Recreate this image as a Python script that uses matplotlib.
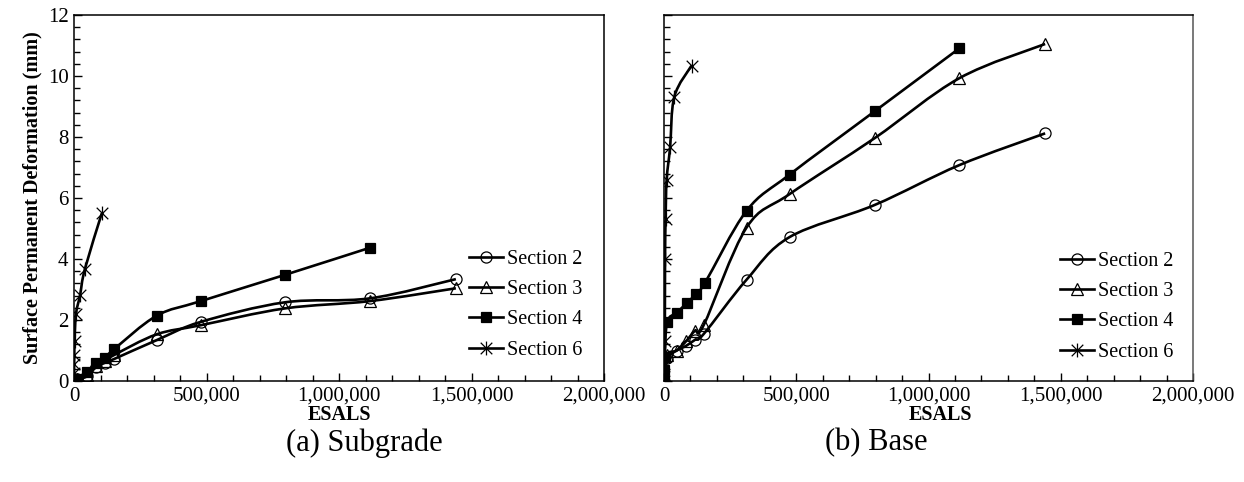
import numpy as np
import matplotlib.pyplot as plt
from matplotlib.path import Path
from matplotlib.patches import PathPatch
from matplotlib.lines import Line2D

plt.rcParams['font.family'] = ['Liberation Serif', 'DejaVu Serif']

# ---- data (ESALs, surface permanent deformation in mm) ----
labels = ["Section 2", "Section 3", "Section 4", "Section 6"]
x_ticks = [0, 500000, 1000000, 1500000, 2000000]
x_ticklabels = ["0", "500,000", "1,000,000", "1,500,000", "2,000,000"]
y_ticks = [0, 2, 4, 6, 8, 10, 12]

# (a) Subgrade
sg_x2 = [0, 12000, 48000, 83000, 117000, 151000, 312000, 479000, 796000, 1117000, 1441000]
sg_y2 = [0, 0.05, 0.15, 0.45, 0.60, 0.72, 1.34, 1.94, 2.58, 2.71, 3.34]
sg_x3 = [0, 12000, 48000, 83000, 117000, 151000, 312000, 479000, 796000, 1117000, 1441000]
sg_y3 = [0, 0.05, 0.20, 0.50, 0.65, 0.85, 1.53, 1.83, 2.38, 2.62, 3.04]
sg_x4 = [0, 5000, 12000, 48000, 83000, 117000, 151000, 312000, 479000, 796000, 1117000]
sg_y4 = [0, 0.03, 0.08, 0.31, 0.58, 0.76, 1.04, 2.14, 2.62, 3.48, 4.37]
sg_x6 = [0, 0, 1000, 2000, 7500, 23000, 41000, 105000]
sg_y6 = [0.26, 0.55, 0.85, 1.30, 2.20, 2.82, 3.67, 5.50]

# (b) Base
bs_x2 = [0, 10000, 48000, 83000, 117000, 151000, 312000, 475000, 796000, 1117000, 1441000]
bs_y2 = [0, 0.75, 1.00, 1.15, 1.35, 1.55, 3.32, 4.72, 5.77, 7.08, 8.12]
bs_x3 = [0, 10000, 48000, 83000, 117000, 151000, 312000, 475000, 796000, 1117000, 1441000]
bs_y3 = [0, 0.85, 1.00, 1.30, 1.65, 1.85, 5.03, 6.13, 7.96, 9.93, 11.05]
bs_x4 = [0, 1000, 3000, 12000, 48000, 86000, 120000, 155000, 312000, 475000, 796000, 1117000]
bs_y4 = [0, 0.35, 0.80, 1.94, 2.24, 2.55, 2.85, 3.22, 5.58, 6.77, 8.84, 10.91]
bs_x6 = [0, 1000, 3000, 4000, 6000, 10000, 23000, 39000, 104000]
bs_y6 = [0, 0.50, 1.30, 4.00, 5.30, 6.60, 7.66, 9.32, 10.34]

# excel-like "star" marker: an X plus a vertical bar
star = Path([(-1, -1), (1, 1), (-1, 1), (1, -1), (0, -1.2), (0, 1.2)],
            [Path.MOVETO, Path.LINETO, Path.MOVETO, Path.LINETO, Path.MOVETO, Path.LINETO])

styles = [
    dict(marker="o", markersize=8, markerfacecolor="none", markeredgewidth=0.9),
    dict(marker="^", markersize=8.5, markerfacecolor="none", markeredgewidth=0.9),
    dict(marker="s", markersize=7, markerfacecolor="black", markeredgewidth=0.9),
    dict(marker=star, markersize=10, markerfacecolor="none", markeredgewidth=0.9),
]


def smooth_path(x, y, t=1 / 6):
    # catmull-rom style bezier through the points (like excel's smoothed line)
    p = np.column_stack([x, y]).astype(float)
    verts = [p[0]]
    codes = [Path.MOVETO]
    n = len(p)
    for i in range(n - 1):
        p0 = p[i - 1] if i > 0 else p[i]
        p3 = p[i + 2] if i + 2 < n else p[i + 1]
        c1 = p[i] + (p[i + 1] - p0) * t
        c2 = p[i + 1] - (p3 - p[i]) * t
        verts += [c1, c2, p[i + 1]]
        codes += [Path.CURVE4] * 3
    return Path(verts, codes)


def draw(ax, series):
    for (x, y), st in zip(series, styles):
        ax.add_patch(PathPatch(smooth_path(x, y), fill=False, lw=1.9, ec="black", zorder=2))
        ax.plot(x, y, ls="none", color="black", zorder=3, **st)
    ax.set_xlim(0, 2000000)
    ax.set_ylim(0, 12)
    ax.set_xticks(x_ticks)
    ax.set_xticklabels(x_ticklabels)
    ax.set_xticks(np.arange(0, 2000001, 100000), minor=True)
    ax.set_yticks(y_ticks)
    ax.set_yticks(np.arange(0, 12.01, 0.4), minor=True)
    ax.tick_params(which="both", direction="in", labelsize=15, width=1, color="black")
    ax.tick_params(which="major", length=6, pad=4)
    ax.tick_params(which="minor", length=4.5)
    for s in ax.spines.values():
        s.set_linewidth(1.1)
    handles = [Line2D([], [], color="black", lw=1.9, **st) for st in styles]
    return handles


W, H = 1244, 482
fig = plt.figure(figsize=(W / 100, H / 100), dpi=100)
ax1 = fig.add_axes([74 / W, 101 / H, 530 / W, 366 / H])
ax2 = fig.add_axes([664 / W, 101 / H, 529 / W, 366 / H])

h = draw(ax1, [(sg_x2, sg_y2), (sg_x3, sg_y3), (sg_x4, sg_y4), (sg_x6, sg_y6)])
draw(ax2, [(bs_x2, bs_y2), (bs_x3, bs_y3), (bs_x4, bs_y4), (bs_x6, bs_y6)])
ax2.tick_params(axis="y", labelleft=False)
ax2.spines["right"].set_color("#555555")

ax1.set_ylabel("Surface Permanent Deformation (mm)", fontsize=14.5, fontweight="bold", labelpad=4)

# axis titles under the tick labels
fig.text(339 / W, 1 - 415 / H, "ESALS", ha="center", va="center", fontsize=14.5, fontweight="bold")
fig.text(940 / W, 1 - 415 / H, "ESALS", ha="center", va="center", fontsize=14.5, fontweight="bold")

legkw = dict(frameon=False, fontsize=14.5, handlelength=1.7, handletextpad=0.2,
             labelspacing=0.55, borderpad=0, borderaxespad=0, loc="upper left")
fig.legend(h, labels, bbox_to_anchor=(469 / W, 1 - 250 / H), **legkw)
fig.legend(h, labels, bbox_to_anchor=(1060 / W, 1 - 252 / H), **legkw)

fig.text(364 / W, 1 - 443 / H, "(a) Subgrade", ha="center", va="center", fontsize=22)
fig.text(876 / W, 1 - 443 / H, "(b) Base", ha="center", va="center", fontsize=22)

fig.savefig("out.png", dpi=100)
